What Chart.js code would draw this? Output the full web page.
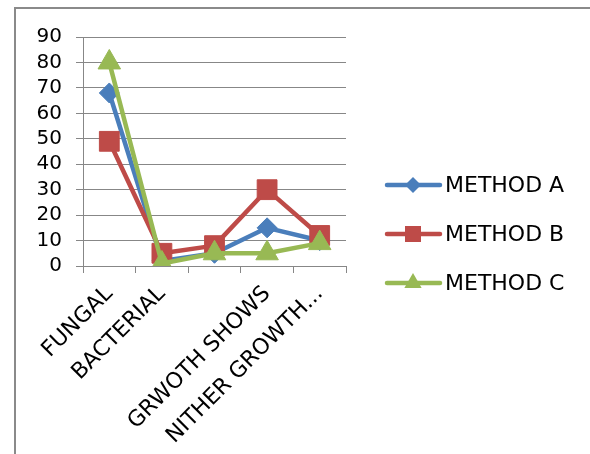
<!DOCTYPE html>
<html>
<head>
<meta charset="utf-8">
<script src="https://cdn.jsdelivr.net/npm/chart.js@4/dist/chart.umd.min.js"></script>
<style>
  html, body { margin: 0; padding: 0; background: #ffffff; }
  #wrap { width: 590px; height: 454px; position: relative; }
</style>
</head>
<body>
<div id="wrap"><canvas id="c" width="590" height="454"></canvas></div>
<script>
// Growth categories and the three methods' results
const categories = ['FUNGAL', 'BACTERIAL', '', 'GRWOTH SHOWS', 'NITHER GROWTH...'];
const methodA = [68, 2, 5, 15, 10];
const methodB = [49, 5, 8, 30, 12];
const methodC = [80, 1, 5, 5, 9];
const seriesNames = ['METHOD A', 'METHOD B', 'METHOD C'];
const yMin = 0, yMax = 90, yStep = 10;

const FAMILY = '"DejaVu Sans", sans-serif';
const Y_FONT = { family: FAMILY, size: 20 };
const X_FONT = { family: FAMILY, size: 22 };
const LEGEND_SIZE = 22;
const GRID = '#878787';

// Outer frame: top and left edges only
const framePlugin = {
  id: 'frame',
  beforeDraw(chart) {
    const ctx = chart.ctx;
    ctx.save();
    ctx.fillStyle = '#ffffff';
    ctx.fillRect(0, 0, chart.width, chart.height);
    ctx.strokeStyle = '#8a8a8a';
    ctx.lineWidth = 2;
    ctx.beginPath();
    ctx.moveTo(15, chart.height + 2);
    ctx.lineTo(15, 8);
    ctx.lineTo(chart.width + 2, 8);
    ctx.stroke();
    ctx.restore();
  }
};

function drawMarker(ctx, style, x, y, color) {
  ctx.fillStyle = color;
  ctx.beginPath();
  if (style === 'rectRot') {
    const r = 8;
    ctx.moveTo(x, y - r); ctx.lineTo(x + r, y); ctx.lineTo(x, y + r); ctx.lineTo(x - r, y);
  } else if (style === 'rect') {
    const h = 8;
    ctx.rect(x - h, y - h, 2 * h, 2 * h);
  } else {
    const r = 10;
    ctx.moveTo(x, y - r);
    ctx.lineTo(x + r * 0.866, y + r / 2);
    ctx.lineTo(x - r * 0.866, y + r / 2);
  }
  ctx.closePath();
  ctx.fill();
}

// Legend on the right: line with marker, then the series name
const legendPlugin = {
  id: 'sideLegend',
  afterDraw(chart) {
    const ctx = chart.ctx;
    ctx.save();
    chart.data.datasets.forEach((ds, i) => {
      const y = 185 + i * 49;
      ctx.strokeStyle = ds.borderColor;
      ctx.lineWidth = 4.5;
      ctx.lineCap = 'round';
      ctx.beginPath();
      ctx.moveTo(387, y);
      ctx.lineTo(440, y);
      ctx.stroke();
      drawMarker(ctx, ds.pointStyle, 413, y, ds.borderColor);
      ctx.fillStyle = '#000000';
      ctx.font = `${LEGEND_SIZE}px ${FAMILY}`;
      ctx.textAlign = 'left';
      ctx.textBaseline = 'middle';
      ctx.fillText(ds.label, 445, y + 1);
    });
    ctx.restore();
  }
};

function series(label, data, color, style, radius, order) {
  return {
    label, data, order,
    borderColor: color,
    backgroundColor: color,
    borderWidth: 4.5,
    borderJoinStyle: 'round',
    tension: 0,
    pointStyle: style,
    pointRadius: radius,
    pointBackgroundColor: color,
    pointBorderColor: color,
    pointBorderWidth: 1
  };
}

new Chart(document.getElementById('c'), {
  type: 'line',
  data: {
    labels: categories,
    datasets: [
      series(seriesNames[0], methodA, '#4a7ebb', 'rectRot', 10, 3),
      series(seriesNames[1], methodB, '#be4b48', 'rect', 14, 2),
      series(seriesNames[2], methodC, '#98b954', 'triangle', 13, 1)
    ]
  },
  options: {
    responsive: false,
    devicePixelRatio: 1,
    animation: false,
    layout: { padding: { left: 0, top: 37, right: 244, bottom: 0 } },
    plugins: { legend: { display: false }, tooltip: { enabled: false } },
    scales: {
      x: {
        offset: true,
        grid: { display: true, drawOnChartArea: false, drawTicks: true, tickLength: 7, color: GRID, offset: true },
        border: { display: true, color: GRID, width: 1 },
        ticks: { autoSkip: false, minRotation: 45, maxRotation: 45, padding: 8, color: '#000000', font: X_FONT },
        afterFit(scale) { scale.height = 188; }
      },
      y: {
        min: yMin, max: yMax,
        grid: { color: GRID, tickLength: 7 },
        border: { display: true, color: GRID, width: 1 },
        ticks: { stepSize: yStep, autoSkip: false, padding: 14, color: '#000000', font: Y_FONT },
        afterFit(scale) { scale.width = 83; }
      }
    }
  },
  plugins: [framePlugin, legendPlugin]
});
</script>
</body>
</html>
